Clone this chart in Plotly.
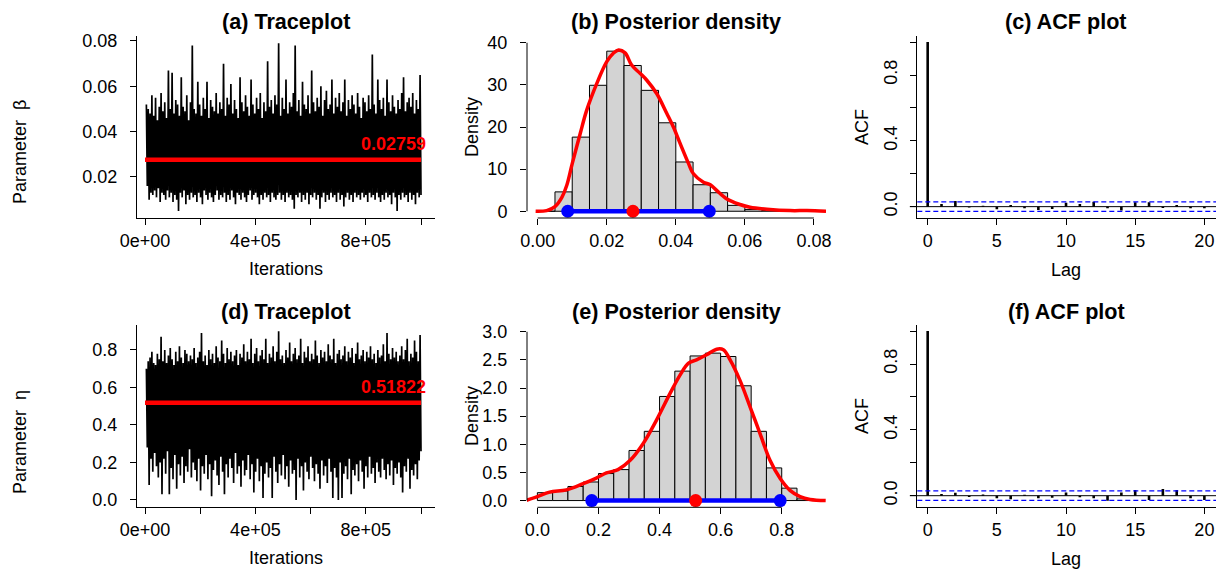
import numpy as np
import plotly.graph_objects as go

W, H = 1223, 571
FONT = "Liberation Sans, Arial, sans-serif"

# ---------------- data ----------------
n_iter = 1_000_000
iter_start = 5000

# beta trace, thousandths (alternating upper / lower excursions across the run)
beta_trace_milli = [
    52, 16, 50, 10, 48, 13, 56, 12, 47, 14, 55, 11, 45, 15, 51, 9, 57, 13, 49, 12,
    53, 10, 46, 14, 67, 11, 50, 13, 66, 9, 48, 12, 54, 10, 52, 5, 47, 13, 64, 11,
    51, 14, 49, 8, 56, 12, 45, 10, 53, 13, 78, 11, 50, 12, 48, 9, 62, 13, 52, 11,
    47, 8, 55, 14, 50, 12, 62, 10, 46, 13, 54, 11, 51, 9, 49, 12, 57, 14, 48, 10,
    53, 12, 50, 11, 70, 13, 47, 9, 55, 12, 52, 10, 61, 14, 48, 11, 54, 8, 50, 13,
    46, 12, 64, 10, 53, 13, 49, 11, 56, 9, 51, 12, 47, 14, 63, 10, 52, 12, 48, 13,
    55, 11, 50, 8, 57, 12, 46, 10, 53, 13, 49, 11, 71, 12, 51, 9, 54, 13, 48, 11,
    56, 10, 52, 12, 79, 13, 47, 10, 55, 12, 50, 9, 63, 13, 48, 11, 53, 12, 51, 10,
    57, 6, 78, 12, 49, 11, 54, 13, 47, 9, 62, 12, 52, 10, 50, 13, 56, 8, 48, 12,
    67, 11, 53, 13, 49, 10, 55, 12, 51, 6, 60, 11, 47, 13, 54, 9, 58, 12, 50, 10,
    52, 13, 63, 11, 48, 12, 55, 9, 51, 13, 57, 10, 49, 12, 53, 7, 63, 11, 47, 13,
    54, 10, 50, 12, 56, 9, 52, 13, 48, 11, 57, 12, 51, 10, 46, 13, 55, 11, 53, 12,
    49, 9, 56, 13, 50, 11, 74, 12, 52, 10, 48, 13, 63, 11, 54, 9, 50, 12, 55, 10,
    47, 13, 63, 11, 53, 12, 49, 8, 56, 13, 51, 11, 48, 5, 54, 12, 50, 10, 57, 13,
    64, 11, 49, 12, 53, 9, 55, 13, 51, 10, 57, 12, 48, 8, 54, 13, 50, 11, 65, 12,
]

# eta trace, hundredths
eta_trace_cent = [
    70, 28, 74, 8, 76, 22, 79, 15, 73, 25, 72, 18, 78, 12, 75, 20, 87, 3, 74, 22,
    80, 14, 73, 26, 77, 3, 81, 17, 75, 11, 72, 24, 79, 6, 74, 19, 82, 13, 76, 23,
    73, 9, 80, 18, 78, 15, 74, 27, 77, 12, 75, 20, 81, 16, 73, 10, 76, 22, 79, 5,
    89, 18, 74, 14, 77, 24, 72, 11, 80, 19, 75, 2, 78, 16, 73, 21, 82, 13, 76, 8,
    74, 23, 85, 15, 78, 3, 73, 19, 81, 12, 75, 22, 79, 17, 74, 9, 77, 25, 80, 14,
    72, 18, 78, 7, 76, 21, 83, 13, 74, 16, 79, 24, 75, 11, 86, 19, 73, 4, 78, 15,
    81, 22, 74, 10, 77, 18, 80, 1, 75, 14, 86, 20, 73, 12, 78, 17, 76, 1, 82, 23,
    74, 15, 79, 9, 90, 19, 75, 13, 77, 24, 73, 11, 80, 18, 76, 7, 84, 21, 74, 14,
    78, 16, 81, 0, 75, 22, 77, 12, 86, 18, 73, 5, 79, 20, 76, 15, 82, 11, 74, 23,
    78, 17, 75, 10, 85, 19, 77, 14, 73, 6, 80, 21, 76, 13, 79, 18, 74, 9, 83, 22,
    77, 15, 75, 1, 86, 17, 73, 12, 78, 0, 80, 20, 75, 1, 77, 14, 82, 18, 74, 11,
    79, 22, 76, 3, 81, 16, 73, 13, 78, 19, 84, 10, 75, 21, 77, 15, 80, 6, 74, 18,
    79, 12, 76, 23, 82, 14, 75, 17, 78, 9, 73, 20, 80, 15, 76, 12, 77, 22, 83, 16,
    74, 11, 89, 19, 78, 13, 75, 21, 81, 8, 76, 17, 79, 14, 74, 20, 77, 12, 82, 4,
    75, 18, 80, 15, 86, 22, 74, 6, 78, 16, 76, 13, 85, 19, 79, 11, 74, 21, 88, 26,
]

beta_mean = 0.02759
eta_mean = 0.51822

# posterior histograms (density scale)
beta_bin_edges = [0.000, 0.005, 0.010, 0.015, 0.020, 0.025, 0.030, 0.035, 0.040,
                  0.045, 0.050, 0.055, 0.060, 0.065, 0.070, 0.075, 0.080]
beta_hist = [0.02, 4.6, 17.6, 29.9, 38.0, 34.6, 28.7, 21.0, 11.7,
             6.3, 4.4, 1.4, 0.4, 0.2, 0.08, 0.05]

eta_bin_edges = [0.00, 0.05, 0.10, 0.15, 0.20, 0.25, 0.30, 0.35, 0.40, 0.45,
                 0.50, 0.55, 0.60, 0.65, 0.70, 0.75, 0.80, 0.85, 0.90]
eta_hist = [0.14, 0.17, 0.25, 0.33, 0.48, 0.55, 0.89, 1.23, 1.85,
            2.30, 2.57, 2.62, 2.56, 2.04, 1.23, 0.58, 0.22, 0.03]

# kernel density curves
beta_dens_x = [-0.0006, 0.0026, 0.005, 0.007, 0.0084, 0.010, 0.0123, 0.0142, 0.0171,
               0.020, 0.0219, 0.0234, 0.0253, 0.0272, 0.0297, 0.0316, 0.0345, 0.0374,
               0.0393, 0.0413, 0.0437, 0.0451, 0.048, 0.050, 0.0519, 0.0548, 0.0586,
               0.0615, 0.0664, 0.0731, 0.078, 0.0835]
beta_dens_y = [0.0, 0.16, 1.1, 3.3, 6.1, 11.3, 18.4, 24.0, 30.3,
               35.5, 37.5, 38.3, 37.6, 34.7, 32.7, 31.1, 27.9, 23.2,
               20.0, 16.0, 11.3, 8.9, 6.9, 6.3, 4.9, 2.9, 1.6,
               0.95, 0.5, 0.16, 0.16, 0.0]

eta_dens_x = [-0.038, 0.0, 0.04, 0.095, 0.15, 0.193, 0.226, 0.264, 0.303, 0.346,
              0.39, 0.434, 0.467, 0.494, 0.521, 0.554, 0.587, 0.609, 0.631, 0.663,
              0.696, 0.729, 0.762, 0.795, 0.827, 0.86, 0.893, 0.944]
eta_dens_y = [0.0, 0.07, 0.15, 0.19, 0.30, 0.40, 0.49, 0.55, 0.71, 1.01,
              1.43, 1.90, 2.23, 2.44, 2.50, 2.59, 2.69, 2.68, 2.50, 2.14,
              1.67, 1.19, 0.71, 0.39, 0.18, 0.07, 0.02, 0.0]

# 95% intervals
beta_ci = [0.0087, 0.0497]
eta_ci = [0.178, 0.795]

# autocorrelations, lags 0..20
lags = list(range(21))
acf_beta = [1.0, 0.016, 0.034, -0.005, 0.005, -0.016, 0.010, -0.010, -0.020, -0.015, 0.024,
            0.016, 0.030, -0.010, -0.024, 0.026, 0.026, -0.008, 0.010, -0.010, -0.010]
acf_eta = [1.0, 0.010, 0.018, -0.008, 0.008, -0.016, -0.022, 0.005, -0.016, -0.012, 0.020,
           -0.010, -0.016, -0.030, 0.020, 0.034, -0.026, 0.040, 0.034, -0.016, -0.026]
acf_ci = 0.029

# ---------------- layout helpers ----------------
def fx(p):
    return p / W

def fy(p):
    return 1 - p / H

cols = [(137, 435), (527, 826), (917.3, 1216)]
rows = [(36, 218), (325, 507.3)]

tickfont = dict(family=FONT, size=18, color="black")


def axis(dom, rng, tickvals, anchor, ticktext=None, line=True, angle=0, standoff=0):
    d = dict(domain=dom, range=rng, tickvals=tickvals, anchor=anchor, ticks="outside",
             ticklen=6, tickwidth=1, tickcolor="black", showgrid=False, zeroline=False,
             showline=line, linecolor="black", linewidth=1, tickfont=tickfont,
             tickangle=angle, ticklabelstandoff=standoff, fixedrange=True, automargin=False)
    if ticktext is not None:
        d["ticktext"] = ticktext
    return d


fig = go.Figure()

# ---- (a) and (d): traceplots ----
trace_x_ticks = [0, 200000, 400000, 600000, 800000, 1000000]
trace_x_text = ["0e+00", "", "4e+05", "", "8e+05", ""]
for k, (vals, scale, mean) in enumerate([(beta_trace_milli, 1000, beta_mean),
                                         (eta_trace_cent, 100, eta_mean)]):
    sfx = "" if k == 0 else "4"
    y = np.array(vals) / scale
    x = np.linspace(iter_start, n_iter, len(y))
    fig.add_trace(go.Scatter(x=x, y=y, mode="lines", line=dict(color="black", width=1.7),
                             xaxis="x" + sfx, yaxis="y" + sfx, hoverinfo="skip"))
    fig.add_trace(go.Scatter(x=[0, n_iter], y=[mean, mean], mode="lines",
                             line=dict(color="#ff0000", width=4.5),
                             xaxis="x" + sfx, yaxis="y" + sfx))
    fig.add_annotation(x=0.9 * n_iter, y=mean, xref="x" + sfx, yref="y" + sfx,
                       text="<b>%s</b>" % (f"{mean:.5f}"), showarrow=False, yshift=16,
                       font=dict(family=FONT, size=18, color="#ff0000"))

fig.update_layout(
    xaxis=axis([fx(cols[0][0]), fx(cols[0][1])], [-28986, 1050725], trace_x_ticks, "y",
               trace_x_text),
    yaxis=axis([fy(rows[0][1]), fy(rows[0][0])], [0.0019, 0.0822], [0.02, 0.04, 0.06, 0.08], "x",
               ["0.02", "0.04", "0.06", "0.08"], standoff=9),
    xaxis4=axis([fx(cols[0][0]), fx(cols[0][1])], [-28986, 1050725], trace_x_ticks, "y4",
                trace_x_text),
    yaxis4=axis([fy(rows[1][1]), fy(rows[1][0])], [-0.039, 0.933], [0, 0.2, 0.4, 0.6, 0.8], "x4",
                ["0.0", "0.2", "0.4", "0.6", "0.8"], standoff=9),
)

# ---- (b) and (e): posterior densities ----
dens_sets = [
    ("2", beta_bin_edges, beta_hist, beta_dens_x, beta_dens_y, beta_ci, beta_mean,
     [-0.0031, 0.0835], [-1.6, 41.6], [0, 0.02, 0.04, 0.06, 0.08],
     ["0.00", "0.02", "0.04", "0.06", "0.08"], [0, 10, 20, 30, 40],
     ["0", "10", "20", "30", "40"], rows[0]),
    ("5", eta_bin_edges, eta_hist, eta_dens_x, eta_dens_y, eta_ci, eta_mean,
     [-0.034, 0.945], [-0.12, 3.12], [0, 0.2, 0.4, 0.6, 0.8],
     ["0.0", "0.2", "0.4", "0.6", "0.8"], [0, 0.5, 1, 1.5, 2, 2.5, 3],
     ["0.0", "0.5", "1.0", "1.5", "2.0", "2.5", "3.0"], rows[1]),
]
for sfx, edges, hist, dx, dy, ci, mean, xr, yr, xt, xtt, yt, ytt, row in dens_sets:
    edges = np.array(edges)
    fig.add_trace(go.Bar(x=edges[:-1], y=hist, width=np.diff(edges), offset=0,
                         marker=dict(color="#d3d3d3", line=dict(color="black", width=1)),
                         xaxis="x" + sfx, yaxis="y" + sfx))
    fig.add_trace(go.Scatter(x=dx, y=dy, mode="lines", line=dict(color="#ff0000", width=3.5, shape="spline"),
                             xaxis="x" + sfx, yaxis="y" + sfx))
    fig.add_trace(go.Scatter(x=ci, y=[0, 0], mode="lines+markers",
                             line=dict(color="#0000ff", width=4.5),
                             marker=dict(color="#0000ff", size=13),
                             xaxis="x" + sfx, yaxis="y" + sfx))
    fig.add_trace(go.Scatter(x=[mean], y=[0], mode="markers",
                             marker=dict(color="#ff0000", size=13),
                             xaxis="x" + sfx, yaxis="y" + sfx))
    fig.update_layout({
        "xaxis" + sfx: axis([fx(cols[1][0]), fx(cols[1][1])], xr, xt, "y" + sfx, xtt, line=False),
        "yaxis" + sfx: axis([fy(row[1]), fy(row[0])], yr, yt, "x" + sfx, ytt, line=False, standoff=9),
    })
    # R-style axis lines spanning only the tick range
    fig.add_shape(type="line", xref="x" + sfx, yref="y%s domain" % sfx, x0=xt[0], x1=xt[-1],
                  y0=0, y1=0, line=dict(color="black", width=1))
    fig.add_shape(type="line", xref="x%s domain" % sfx, yref="y" + sfx, x0=0, x1=0,
                  y0=yt[0], y1=yt[-1], line=dict(color="black", width=1))

# ---- (c) and (f): ACF ----
for sfx, acf, rng_y, row in [("3", acf_beta, [-0.069, 1.037], rows[0]),
                              ("6", acf_eta, [-0.0705, 1.037], rows[1])]:
    xs, ys = [], []
    for lag, v in zip(lags, acf):
        xs += [lag, lag, None]
        ys += [0, v, None]
    fig.add_trace(go.Scatter(x=xs, y=ys, mode="lines", line=dict(color="black", width=2.6),
                             xaxis="x" + sfx, yaxis="y" + sfx))
    fig.add_shape(type="line", xref="x%s domain" % sfx, yref="y" + sfx, x0=-0.025, x1=1,
                  y0=0, y1=0, line=dict(color="black", width=1))
    for c in (acf_ci, -acf_ci):
        fig.add_shape(type="line", xref="x%s domain" % sfx, yref="y" + sfx, x0=0, x1=1,
                      y0=c, y1=c, line=dict(color="#0000ff", width=1.2, dash="5px,3px"))
    fig.update_layout({
        "xaxis" + sfx: axis([fx(cols[2][0]), fx(cols[2][1])], [-0.75, 20.84], [0, 5, 10, 15, 20],
                            "y" + sfx),
        "yaxis" + sfx: axis([fy(row[1]), fy(row[0])], rng_y, [0, 0.2, 0.4, 0.6, 0.8, 1.0], "x" + sfx,
                            ["0.0", "", "0.4", "", "0.8", ""], angle=-90, standoff=6),
    })

# ---- titles and axis labels ----
titles = ["(a) Traceplot", "(b) Posterior density", "(c) ACF plot",
          "(d) Traceplot", "(e) Posterior density", "(f) ACF plot"]
title_x = [286, 676.5, 1066]
title_y = [22, 312]
for i, t in enumerate(titles):
    fig.add_annotation(x=fx(title_x[i % 3]), y=fy(title_y[i // 3]), xref="paper", yref="paper",
                       text="<b>%s</b>" % t, showarrow=False, xanchor="center", yanchor="middle",
                       font=dict(family=FONT, size=21.6, color="black"))

def label(text, px, py, angle=0):
    fig.add_annotation(x=fx(px), y=fy(py), xref="paper", yref="paper", text=text,
                       showarrow=False, xanchor="center", yanchor="middle", textangle=angle,
                       font=dict(family=FONT, size=18, color="black"))

label("Parameter \u00a0\u03b2", 20, 152, -90)
label("Parameter \u00a0\u03b7", 20, 442, -90)
label("Density", 472, 127, -90)
label("Density", 472, 416, -90)
label("ACF", 862, 127, -90)
label("ACF", 862, 416, -90)
label("Iterations", 286, 269)
label("Iterations", 286, 558)
label("Lag", 1066, 270)
label("Lag", 1066, 559)

fig.update_layout(width=W, height=H, margin=dict(l=0, r=0, t=0, b=0, autoexpand=False),
                  paper_bgcolor="white", plot_bgcolor="white", showlegend=False,
                  font=dict(family=FONT, color="black"))

fig.write_html("out.html", config={"displayModeBar": False},
               post_script="document.body.style.margin='0';")
